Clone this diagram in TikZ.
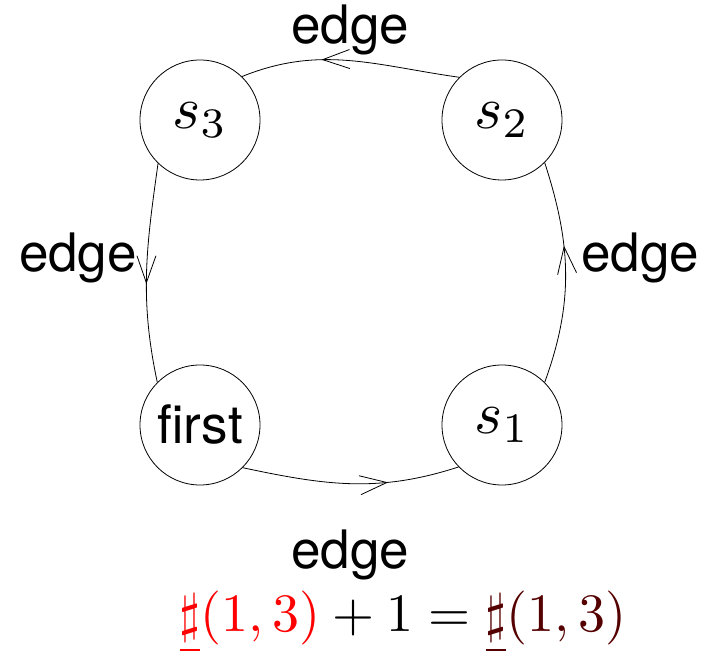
\documentclass[tikz,border=0pt]{standalone}
\usepackage{graphicx}
\usepackage{fontspec}
\newfontfamily\hv{TeX Gyre Heros}
\usetikzlibrary{arrows.meta,decorations.markings}
\definecolor{darkred}{RGB}{85,0,0}
\begin{document}
\begin{tikzpicture}[x=1pt,y=1pt,
  state/.style={draw,circle,line width=0.8pt,minimum size=120pt,inner sep=0pt},
  lbl/.style={font=\hv\fontsize{53}{60}\selectfont,inner sep=0pt},
  edg/.style={line width=0.8pt,postaction={decorate},decoration={markings,mark=at position #1 with {\arrow{Straight Barb[length=27pt,width=19pt,line width=0.8pt]}}}},
  edg/.default=0.62]
\useasboundingbox (0,0) rectangle (713,663);
\node[state] (s3) at (200,543) {\scalebox{6.0}{$s_3$}};
\node[state] (s2) at (502,543) {\scalebox{6.0}{$s_2$}};
\node[state,font=\hv\fontsize{53}{60}\selectfont] (first) at (200,238) {first};
\node[state] (s1) at (502,238) {\scalebox{6.0}{$s_1$}};
\draw[edg=0.63] (s2.135) to[out=172,in=22] (s3.46);
\draw[edg=0.55] (s3.226) to[out=262,in=102] (first.135);
\draw[edg=0.67] (first.-45) to[out=-12,in=198] (s1.224);
\draw[edg=0.62] (s1.45) to[out=70,in=-72] (s2.-45);
\node[lbl] (etop) at (350,633) {edge};
\node[lbl] (eleft) at (78,405) {edge};
\node[lbl] (eright) at (640,405) {edge};
\node[lbl] (ebot) at (350,108) {edge};
\node[inner sep=0pt] (formula) at (403,41)
  {\scalebox{5.4}{$\color{red}\underline{\sharp}(1,3)\color{black}+1=\color{darkred}\underline{\sharp}(1,3)$}};
\end{tikzpicture}
\end{document}
